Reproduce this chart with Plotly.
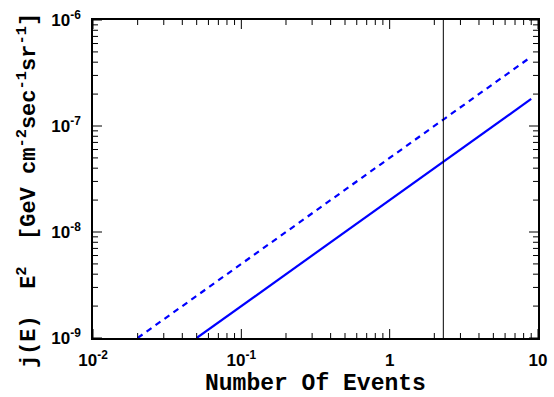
import math
import plotly.graph_objects as go

# Data
dashed_x = [0.02, 8.6]
dashed_y = [1.0e-9, 4.3e-7]
solid_x = [0.05, 9.0]
solid_y = [1.0e-9, 1.8e-7]
vline_x = [2.3, 2.3]
vline_y = [1e-9, 1e-6]

x_tickvals = [1e-2, 1e-1, 1, 10]
x_ticktext = ["10<sup>-2</sup>", "10<sup>-1</sup>", "1", "10"]
y_tickvals = [1e-9, 1e-8, 1e-7, 1e-6]
y_ticktext = ["10<sup>-9</sup>", "10<sup>-8</sup>", "10<sup>-7</sup>", "10<sup>-6</sup>"]

x_minor = [m * 10 ** e for e in (-2, -1, 0) for m in range(2, 10)]
y_minor = [m * 10 ** e for e in (-9, -8, -7) for m in range(2, 10)]

x_title = "Number Of Events"
y_title = "j(E)  E<sup>2</sup>  [GeV cm<sup>-2</sup>sec<sup>-1</sup>sr<sup>-1</sup>]"

XR = [-2, 1]
YR = [-9, -6]
W, H = 554, 397
ML, MR, MT, MB = 93, 16, 20, 59
px_per_dec_x = (W - ML - MR) / (XR[1] - XR[0])
px_per_dec_y = (H - MT - MB) / (YR[1] - YR[0])

fig = go.Figure()
fig.add_trace(go.Scatter(x=dashed_x, y=dashed_y, mode="lines",
                         line=dict(color="#0000ff", width=2.2, dash="6px,5px"),
                         showlegend=False, hoverinfo="skip"))
fig.add_trace(go.Scatter(x=solid_x, y=solid_y, mode="lines",
                         line=dict(color="#0000ff", width=2.2),
                         showlegend=False, hoverinfo="skip"))
fig.add_trace(go.Scatter(x=vline_x, y=vline_y, mode="lines",
                         line=dict(color="black", width=1),
                         showlegend=False, hoverinfo="skip"))

# inside tick marks on all four sides, built from the tick lists
tx, ty = [], []
ylo, yhi = 10 ** YR[0], 10 ** YR[1]
xlo, xhi = 10 ** XR[0], 10 ** XR[1]
for vals, L in ((x_tickvals, 9), (x_minor, 5)):
    d = L / px_per_dec_y
    for v in vals:
        tx += [v, v, None, v, v, None]
        ty += [ylo, 10 ** (YR[0] + d), None, yhi, 10 ** (YR[1] - d), None]
for vals, L in ((y_tickvals, 9), (y_minor, 5)):
    d = L / px_per_dec_x
    for v in vals:
        ty += [v, v, None, v, v, None]
        tx += [xlo, 10 ** (XR[0] + d), None, xhi, 10 ** (XR[1] - d), None]
fig.add_trace(go.Scatter(x=tx, y=ty, mode="lines", connectgaps=False,
                         line=dict(color="black", width=1),
                         showlegend=False, hoverinfo="skip"))

tickfont = dict(family="Liberation Sans", size=17, color="black", weight="bold")
titlefont = dict(family="Liberation Mono", size=23, color="black", weight="bold")

fig.update_layout(
    width=W, height=H,
    margin=dict(l=ML, r=MR, t=MT, b=MB),
    plot_bgcolor="white", paper_bgcolor="white",
    xaxis=dict(
        type="log", range=XR, automargin=False,
        tickmode="array", tickvals=x_tickvals, ticktext=x_ticktext,
        ticks="", ticklabelstandoff=6,
        showline=True, linecolor="black", linewidth=1.5, mirror=True,
        showgrid=False, zeroline=False,
        tickfont=tickfont,
    ),
    yaxis=dict(
        type="log", range=YR, automargin=False,
        tickmode="array", tickvals=y_tickvals, ticktext=y_ticktext,
        ticks="", ticklabelstandoff=7,
        showline=True, linecolor="black", linewidth=1.5, mirror=True,
        showgrid=False, zeroline=False,
        tickfont=tickfont,
    ),
    annotations=[
        dict(text=x_title, xref="paper", yref="paper", x=0.5, y=0,
             xanchor="center", yanchor="middle", yshift=-46,
             showarrow=False, font=titlefont),
        dict(text=y_title, xref="paper", yref="paper", x=0, y=0.462,
             xanchor="center", yanchor="middle", xshift=-66, textangle=-90,
             showarrow=False, font=dict(titlefont, size=22)),
    ],
)

fig.write_html("out.html")
